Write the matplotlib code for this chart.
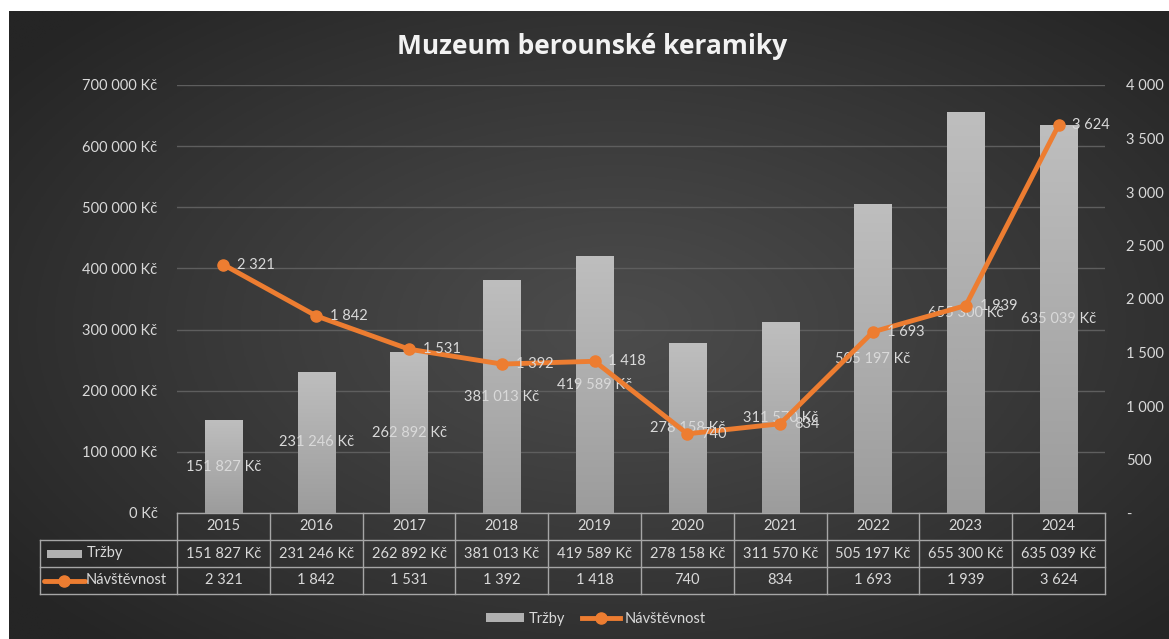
import numpy as np
import matplotlib
matplotlib.use("Agg")
import matplotlib.pyplot as plt
from matplotlib.lines import Line2D
from matplotlib.patches import Rectangle
import matplotlib.transforms as mtransforms

# ---------------- data ----------------
years = ["2015", "2016", "2017", "2018", "2019", "2020", "2021", "2022", "2023", "2024"]
trzby = [151827, 231246, 262892, 381013, 419589, 278158, 311570, 505197, 655300, 635039]
navstevnost = [2321, 1842, 1531, 1392, 1418, 740, 834, 1693, 1939, 3624]
left_ticks = [0, 100000, 200000, 300000, 400000, 500000, 600000, 700000]
right_ticks = [0, 500, 1000, 1500, 2000, 2500, 3000, 3500, 4000]
title = "Muzeum berounské keramiky"
series_names = ["Tržby", "Návštěvnost"]


def fmt_kc(v):
    return f"{v:,}".replace(",", " ") + " Kč"


def fmt_num(v):
    return "-" if v == 0 else f"{v:,}".replace(",", " ")


plt.rcParams['font.family'] = ['Lato', 'DejaVu Sans']

W, H = 1169, 639
fig = plt.figure(figsize=(W / 100, H / 100), dpi=100)
fig.patch.set_facecolor('white')

# ---------------- background (radial gradient) ----------------
bx0, by0 = 9, 11
bg = fig.add_axes([bx0 / W, 0, (W - bx0) / W, 1 - by0 / H])
bg.set_axis_off()
gx = np.linspace(-1, 1, 400)
gy = np.linspace(-1, 1, 220)
X, Y = np.meshgrid(gx, gy)
R = np.sqrt(((X - 0.05) * 0.95) ** 2 + (Y * 0.9) ** 2)
R = np.clip(R, 0, 1.25) / 1.25
inner = np.array([0x4c, 0x4c, 0x4c]) / 255
outer = np.array([0x25, 0x25, 0x25]) / 255
img = inner[None, None, :] * (1 - R[..., None] ** 1.1) + outer[None, None, :] * (R[..., None] ** 1.1)
bg.imshow(img, extent=[0, 1, 0, 1], aspect='auto', origin='lower')
bg.set_xlim(0, 1)
bg.set_ylim(0, 1)

# ---------------- main axes ----------------
L, Rr, T, B = 177, 1105, 85, 513
ax = fig.add_axes([L / W, 1 - B / H, (Rr - L) / W, (B - T) / H])
ax.patch.set_alpha(0)
ax2 = ax.twinx()
ax2.patch.set_alpha(0)

x = np.arange(len(years))
txtc = '#d9d9d9'
fs = 10.5

ax.set_xlim(-0.5, len(years) - 0.5)
ax.set_ylim(0, 700000)
ax2.set_ylim(0, 4000)
ax.set_yticks(left_ticks)
ax.set_yticklabels([fmt_kc(v) for v in left_ticks])
ax2.set_yticks(right_ticks)
ax2.set_yticklabels([fmt_num(v) for v in right_ticks])
ax.set_xticks([])
ax2.set_xticks([])
for a in (ax, ax2):
    for s in a.spines.values():
        s.set_visible(False)
ax.tick_params(axis='y', length=0, pad=14, colors=txtc, labelsize=fs)
ax2.tick_params(axis='y', length=0, pad=15, colors=txtc, labelsize=fs)
for lab in ax2.get_yticklabels():
    lab.set_horizontalalignment('left')
ax.grid(axis='y', color='#5e5e5e', linewidth=1.0)
ax.set_axisbelow(True)

# bars with vertical gradient
bars = ax.bar(x, trzby, width=0.4, color='#aaaaaa', zorder=2)
grad = np.linspace(0, 1, 256).reshape(-1, 1)
top_c = np.array([0xbe, 0xbe, 0xbe]) / 255
bot_c = np.array([0x9c, 0x9c, 0x9c]) / 255
gimg = bot_c[None, None, :] * (1 - grad[..., None]) + top_c[None, None, :] * grad[..., None]
for b in bars:
    bx, bw, bh = b.get_x(), b.get_width(), b.get_height()
    im = ax.imshow(gimg, extent=[bx, bx + bw, 0, bh], aspect='auto', origin='lower', zorder=2.1)
    im.set_clip_path(b)
ax.set_xlim(-0.5, len(years) - 0.5)
ax.set_ylim(0, 700000)

for xi, v in zip(x, trzby):
    ax.text(xi, v / 2, fmt_kc(v), ha='center', va='center', color=txtc, fontsize=fs, zorder=3)

orange = '#ed7d31'
ax2.plot(x, navstevnost, color=orange, linewidth=3.5, marker='o', markersize=8,
         solid_capstyle='round', zorder=4)
for xi, v in zip(x, navstevnost):
    ax2.annotate(fmt_num(v), (xi, v), xytext=(10, 0), textcoords='offset points',
                 ha='left', va='center', color=txtc, fontsize=fs, zorder=5)
ax2.set_xlim(-0.5, len(years) - 0.5)

# ---------------- data table ----------------
trans = mtransforms.blended_transform_factory(ax.transData, ax.transAxes)
rowh = 27 / (B - T)
edge = '#a6a6a6'
lw = 1.0
xl = -0.5 - (L - 40) / ((Rr - L) / len(years))  # left edge of label column (data units)
nrow = 3
ax.plot([-0.5, len(years) - 0.5], [0, 0], transform=trans, color=edge, lw=lw, clip_on=False)
for r in range(1, nrow + 1):
    ax.plot([xl, len(years) - 0.5], [-r * rowh, -r * rowh], transform=trans, color=edge, lw=lw,
            clip_on=False)
for c in range(len(years) + 1):
    ax.plot([c - 0.5, c - 0.5], [0, -nrow * rowh], transform=trans, color=edge, lw=lw, clip_on=False)
ax.plot([xl, xl], [-rowh, -nrow * rowh], transform=trans, color=edge, lw=lw, clip_on=False)

for xi, yr, tv, nv in zip(x, years, trzby, navstevnost):
    ax.text(xi, -0.5 * rowh, yr, transform=trans, ha='center', va='center', color=txtc, fontsize=fs)
    ax.text(xi, -1.5 * rowh, fmt_kc(tv), transform=trans, ha='center', va='center', color=txtc,
            fontsize=fs)
    ax.text(xi, -2.5 * rowh, fmt_num(nv), transform=trans, ha='center', va='center', color=txtc,
            fontsize=fs)

# row labels with legend keys
unit = (Rr - L) / len(years)
px = lambda p: -0.5 + (p - L) / unit
ax.add_patch(Rectangle((px(47), -1.5 * rowh - 4 / (B - T)), px(82) - px(47), 8 / (B - T),
                       transform=trans, facecolor='#b0b0b0', edgecolor='none', clip_on=False))
ax.text(px(87), -1.5 * rowh, series_names[0], transform=trans, ha='left', va='center', color=txtc,
        fontsize=fs)
ax.plot([px(44), px(85)], [-2.5 * rowh, -2.5 * rowh], transform=trans, color=orange, lw=3.5,
        marker=None, clip_on=False, solid_capstyle='round')
ax.plot([px(64.5)], [-2.5 * rowh], transform=trans, color=orange, marker='o', markersize=8,
        clip_on=False)
ax.text(px(86), -2.5 * rowh, series_names[1], transform=trans, ha='left', va='center', color=txtc,
        fontsize=fs)

# ---------------- title ----------------
fig.text(592 / W, 1 - 46 / H, title, ha='center', va='center', color='#f2f2f2', fontsize=19,
         fontweight='bold', family=['Open Sans', 'DejaVu Sans'])

# ---------------- legend ----------------
h1 = Rectangle((0, 0), 1, 1, facecolor='#b0b0b0', edgecolor='none')
h2 = Line2D([], [], color=orange, lw=3.5, marker='o', markersize=8)
leg = fig.legend([h1, h2], series_names, loc='center', bbox_to_anchor=(596 / W, 1 - 619 / H),
                 ncol=2, frameon=False, fontsize=fs, labelcolor=txtc, handlelength=2.6,
                 handleheight=0.6, handletextpad=0.3, columnspacing=1.2)

fig.savefig('out.png', dpi=100, facecolor=fig.get_facecolor())
